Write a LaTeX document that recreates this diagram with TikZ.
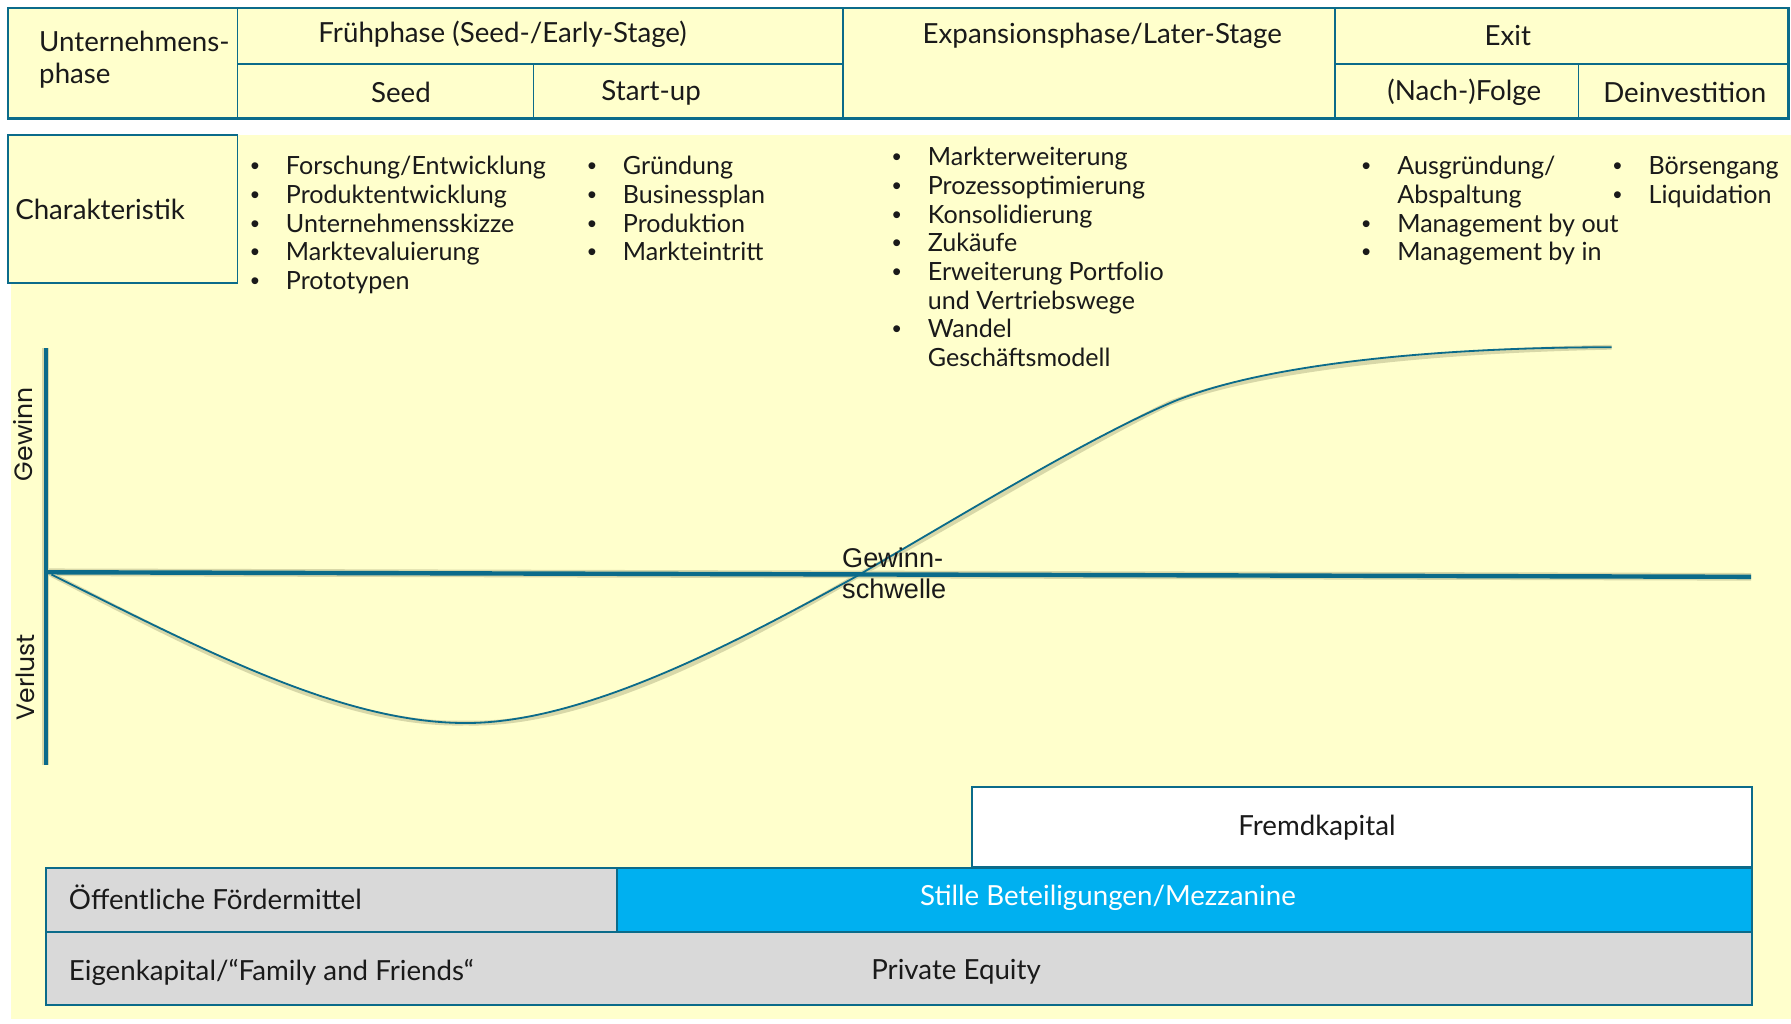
\documentclass[tikz,border=0pt]{standalone}
\usepackage{fontspec}
\setmainfont{Lato}
\newfontfamily\axisfont{Poppins}
\newfontfamily\arialfont{Liberation Sans}
\usetikzlibrary{positioning}

\definecolor{tealline}{HTML}{0B6B8A}
\definecolor{paleyellow}{HTML}{FFFFCC}
\definecolor{boxgray}{HTML}{D9D9D9}
\definecolor{mezzcyan}{HTML}{00B0F0}
\definecolor{inktext}{HTML}{1A1A1A}
\definecolor{shadowtone}{HTML}{D8D8A8}

\tikzset{
  cell/.style={draw=tealline, fill=paleyellow, line width=0.9pt},
  celltext/.style={text=inktext, font=\fontsize{13.8}{15.9}\selectfont, inner sep=0pt},
  bulletlist/.style={text=inktext, font=\fontsize{12.5}{14.3}\selectfont, inner sep=0pt, anchor=base west},
  axisline/.style={draw=tealline, line width=2.2pt},
  curveline/.style={draw=tealline, line width=0.9pt},
  softshadow/.style={draw=shadowtone, line width=2.4pt, shift={(1.5,3)}},
  capbox/.style={draw=tealline, line width=0.9pt},
  axislabel/.style={rotate=90, text=inktext, font=\axisfont\fontsize{12.5}{14}\selectfont},
}
\newcommand{\pt}[1]{\makebox[0.62cm][l]{\arialfont •}#1}
\newcommand{\ptcont}[1]{\makebox[0.62cm][l]{}#1}

\begin{document}
\begin{tikzpicture}[x=0.02cm,y=-0.02cm]
      \useasboundingbox[fill=white] (0,0) rectangle (1568,896);
      \fill[paleyellow] (10,118) rectangle (1568,892);
      % Kopfzeile
      \draw[cell, line width=1.3pt] (7,7) rectangle (1566,104);
      \draw[cell] (208,7) rectangle (738,56);
      \draw[cell] (208,56) rectangle (467,104);
      \draw[cell] (467,56) rectangle (738,104);
      \draw[cell] (738,7) rectangle (1169,104);
      \draw[cell] (1169,7) rectangle (1566,56);
      \draw[cell] (1169,56) rectangle (1382,104);
      \draw[cell] (1382,56) rectangle (1566,104);
      \draw[tealline, line width=1.3pt] (7,7) rectangle (1566,104);
      \node[celltext, anchor=west, align=left] (phase) at (34,52) {Unternehmens-\\phase};
      \node[celltext] (frueh) at (440,30) {Frühphase (Seed-/Early-Stage)};
      \node[celltext] (seed) at (351,81) {Seed};
      \node[celltext] (startup) at (570,81) {Start-up};
      \node[celltext] (expansion) at (965,31) {Expansionsphase/Later-Stage};
      \node[celltext] (exit) at (1320,31) {Exit};
      \node[celltext] (folge) at (1282,81) {(Nach-)Folge};
      \node[celltext] (deinvest) at (1475,81) {Deinvestition};
      % Charakteristik
      \draw[cell] (7,118) rectangle (208,248);
      \node[celltext, anchor=west] (charakter) at (13,183) {Charakteristik};
      \node[bulletlist] (listfrueh) at (219,153) {\begin{tabular}[t]{@{}l@{}}
        \pt{Forschung/Entwicklung}\\\pt{Produktentwicklung}\\\pt{Unternehmensskizze}\\\pt{Marktevaluierung}\\\pt{Prototypen}\end{tabular}};
      \node[bulletlist] (liststart) at (514,153) {\begin{tabular}[t]{@{}l@{}}
        \pt{Gründung}\\\pt{Businessplan}\\\pt{Produktion}\\\pt{Markteintritt}\end{tabular}};
      \node[bulletlist] (listexpansion) at (781,145) {\begin{tabular}[t]{@{}l@{}}
        \pt{Markterweiterung}\\\pt{Prozessoptimierung}\\\pt{Konsolidierung}\\\pt{Zukäufe}\\\pt{Erweiterung Portfolio}\\\ptcont{und Vertriebswege}\\\pt{Wandel}\\\ptcont{Geschäftsmodell}\end{tabular}};
      \node[bulletlist] (listfolge) at (1192,153) {\begin{tabular}[t]{@{}l@{}}
        \pt{Ausgründung/}\\\ptcont{Abspaltung}\\\pt{Management by out}\\\pt{Management by in}\end{tabular}};
      \node[bulletlist] (listdeinvest) at (1412,153) {\begin{tabular}[t]{@{}l@{}}
        \pt{Börsengang}\\\pt{Liquidation}\end{tabular}};
      % Gewinnkurve
      \coordinate (achsetop) at (40,305);
      \coordinate (achsebottom) at (40,670);
      \coordinate (nulllinks) at (40,501);
      \coordinate (nullrechts) at (1533,505);
      \coordinate (start) at (45,503);
      \coordinate (tief) at (408,633);
      \coordinate (schwelle) at (749,505);
      \coordinate (knick) at (1024,353);
      \coordinate (ende) at (1411,304);
      \draw[softshadow] (start) .. controls (180,570) and (300,633) .. (tief)
        .. controls (510,633) and (640,565) .. (schwelle)
        .. controls (840,452) and (950,385) .. (knick)
        .. controls (1100,320) and (1250,304) .. (ende);
      \draw[softshadow, line width=3.6pt] (achsetop) -- (achsebottom);
      \draw[softshadow, line width=3.8pt] (nulllinks) -- (nullrechts);
      \draw[axisline, line width=2pt] (achsetop) -- (achsebottom);
      \draw[axisline] (nulllinks) -- (nullrechts);
      \draw[curveline] (start) .. controls (180,570) and (300,633) .. (tief)
        .. controls (510,633) and (640,565) .. (schwelle)
        .. controls (840,452) and (950,385) .. (knick)
        .. controls (1100,320) and (1250,304) .. (ende);
      \node[axislabel] (gewinn) at (20,380) {Gewinn};
      \node[axislabel] (verlust) at (22,593) {Verlust};
      \node[anchor=west, align=left, text=inktext, inner sep=0pt, font=\arialfont\fontsize{13.5}{15.5}\selectfont] (schwellentext) at (737,502) {Gewinn-\\schwelle};
      % Finanzierung
      \draw[capbox, fill=white] (851,689) rectangle (1534,759);
      \node[celltext] (fremd) at (1153,725) {Fremdkapital};
      \draw[capbox, fill=boxgray] (40,760) rectangle (540,816);
      \node[celltext, anchor=west] (foerder) at (60,786) {Öffentliche Fördermittel};
      \draw[capbox, fill=mezzcyan] (540,760) rectangle (1534,816);
      \node[celltext, text=white] (mezzanine) at (970,786) {Stille Beteiligungen/Mezzanine};
      \draw[capbox, fill=boxgray] (40,816) rectangle (1534,880);
      \node[celltext, anchor=west] (eigen) at (60,851) {Eigenkapital/“Family and Friends“};
      \node[celltext] (equity) at (837,851) {Private Equity};
    \end{tikzpicture}
\end{document}
